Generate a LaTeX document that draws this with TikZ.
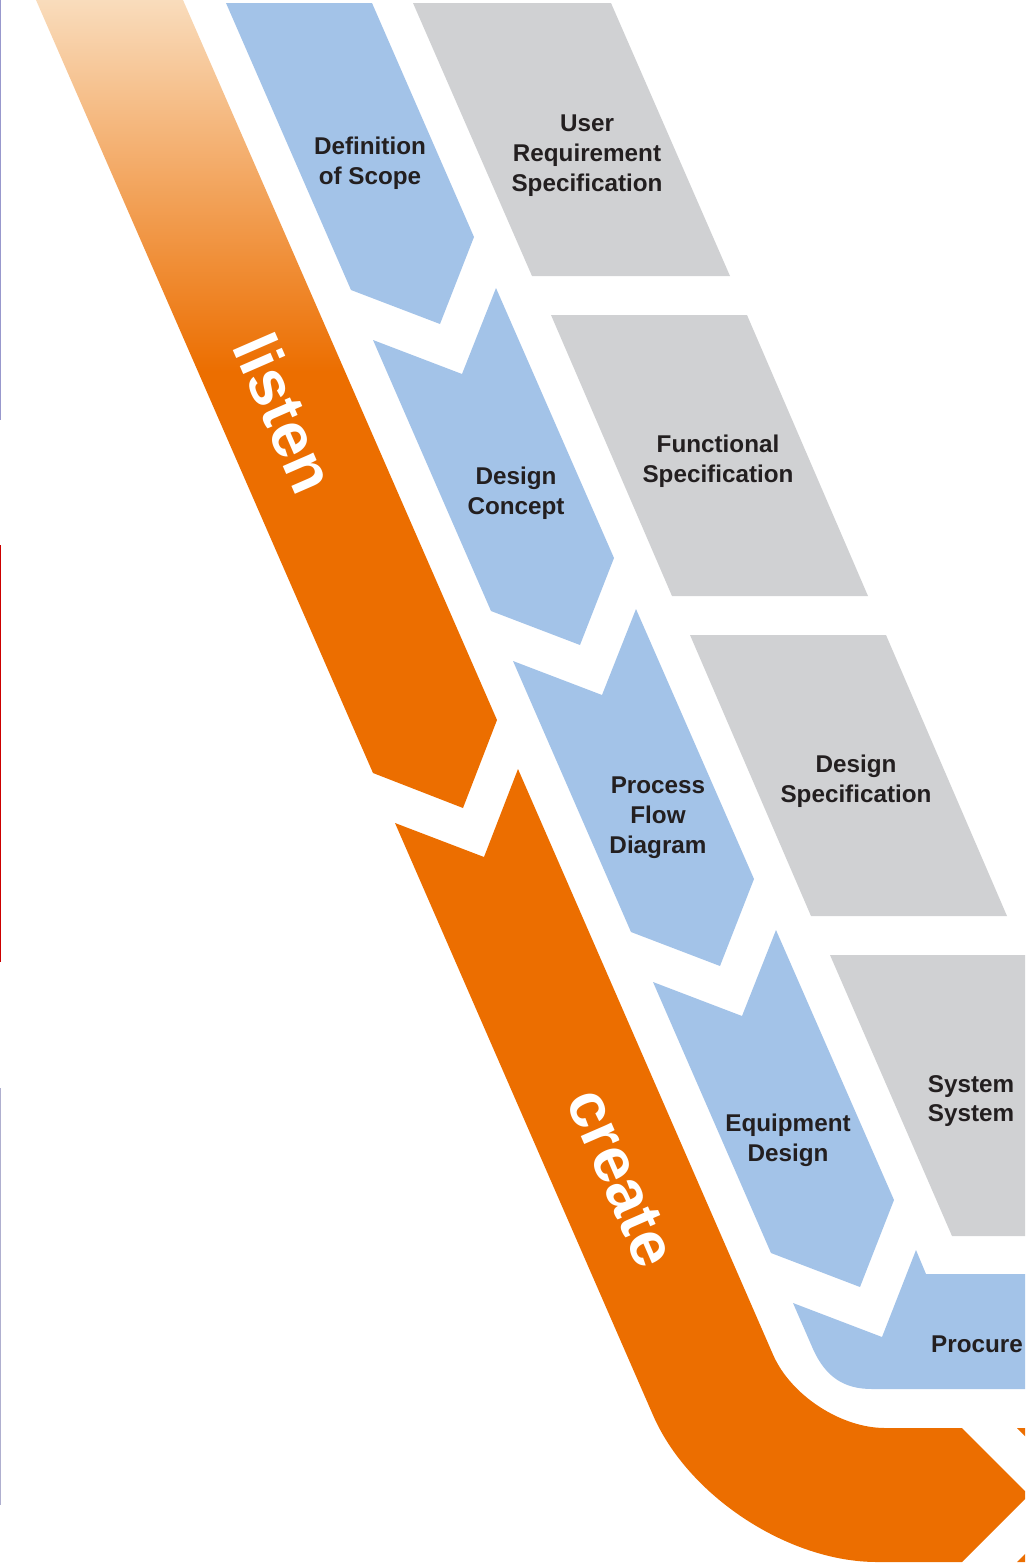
\documentclass[tikz,border=0pt]{standalone}
\usepackage{tikz}
\usepackage{fontspec}
\setmainfont{Liberation Sans}
\definecolor{brandorange}{RGB}{236,110,0}
\definecolor{peach}{RGB}{249,220,188}
\definecolor{stepblue}{RGB}{163,195,232}
\definecolor{specgray}{RGB}{208,209,211}
\definecolor{labeltext}{RGB}{35,31,32}
\pgfdeclareverticalshading{listenfade}{100bp}{color(0bp)=(brandorange); color(52bp)=(brandorange); color(75bp)=(peach); color(100bp)=(peach)}
\tikzset{
    steplabel/.style={align=center, text=labeltext, inner sep=0pt,
        font=\bfseries\fontsize{13.8}{17}\selectfont},
    phaselabel/.style={text=white, inner sep=0pt, rotate=-66.5,
        font=\bfseries\fontsize{36}{36}\selectfont}
}
\begin{document}
\begin{tikzpicture}[x=0.02cm, y=-0.02cm]
            \useasboundingbox (0,0) rectangle (1025,1566);
            \clip (0,0) rectangle (1025,1566);

            \fill[blue!35!gray!60] (0,0) rectangle (1.5,420);
            \fill[red!80!black] (0,545) rectangle (1.5,962);
            \fill[blue!25!gray!50] (0,1088) rectangle (1.5,1505);

            \shade[shading=listenfade] (36,0) -- (183,0) -- (497,720) -- (463,808) -- (373,773) -- cycle;
            \fill[brandorange] (395,823) -- (484,857) -- (518,769)
                [rounded corners=1.6cm] -- (805,1428) [sharp corners] -- (962,1428) -- (1029,1495) -- (962,1562)
                [rounded corners=3.2cm] -- (717,1562) [sharp corners] -- cycle;
            \fill[brandorange] (1017,1428) -- (1100,1428) -- (1100,1562) -- (1017,1562) -- (1084,1495) -- cycle;

            \fill[stepblue] (226,3) -- (372,3) -- (474,237) -- (440,324) -- (351,290) -- cycle;
            \foreach \k in {0,...,2}
                \fill[stepblue, shift={(140*\k,321*\k)}] (373,340) -- (462,374) -- (496,288) -- (614,558) -- (580,645) -- (491,611) -- cycle;
            \fill[stepblue] (793,1303) -- (882,1337) -- (916,1250) -- (926,1274) -- (1040,1274) -- (1040,1389)
                -- (872,1389) .. controls (845,1389) and (826,1378) .. (813,1349) -- cycle;

            \fill[specgray] (413,3) -- (611,3) -- (730,276) -- (532,276) -- cycle;
            \foreach \k in {0,1}
                \fill[specgray, shift={(139*\k,320*\k)}] (551,315) -- (747,315) -- (868,596) -- (672,596) -- cycle;
            \fill[specgray] (830,955) -- (1040,955) -- (1040,1236) -- (952,1236) -- cycle;

            \node[phaselabel] (listen) at (285,413) {listen};
            \node[phaselabel] (create) at (621,1178) {create};

            \node[steplabel] (scope) at (370,163) {Definition\\of Scope};
            \node[steplabel] (concept) at (516,493) {Design\\Concept};
            \node[steplabel] (flow) at (658,818) {Process\\Flow\\Diagram};
            \node[steplabel] (equipment) at (788,1140) {Equipment\\Design};
            \node[steplabel] (procure) at (977,1344) {Procure};

            \node[steplabel] (urs) at (587,156) {User\\Requirement\\Specification};
            \node[steplabel] (functional) at (718,461) {Functional\\Specification};
            \node[steplabel] (designspec) at (856,781) {Design\\Specification};
            \node[steplabel] (system) at (971,1101) {System\\System};
        \end{tikzpicture}
\end{document}
